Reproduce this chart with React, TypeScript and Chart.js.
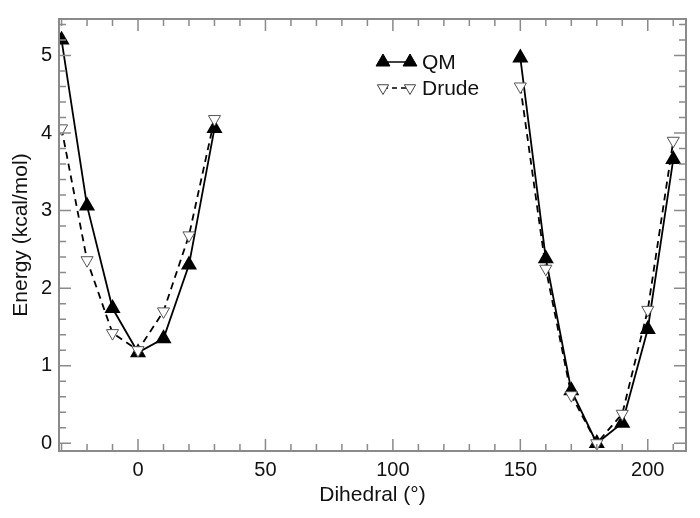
import React, { useEffect, useRef } from "react";
import { Chart, registerables } from "chart.js";

Chart.register(...registerables);

const dihedralLeft = [-30, -20, -10, 0, 10, 20, 30];
const dihedralRight = [150, 160, 170, 180, 190, 200, 210];
const qmLeft = [5.2, 3.06, 1.74, 1.17, 1.35, 2.3, 4.06];
const qmRight = [4.97, 2.38, 0.68, 0.0, 0.26, 1.47, 3.66];
const drudeLeft = [4.06, 2.36, 1.42, 1.2, 1.7, 2.68, 4.18];
const drudeRight = [4.6, 2.25, 0.62, 0.0, 0.38, 1.72, 3.9];
const xTickLabels = [0, 50, 100, 150, 200];
const yTickLabels = [0, 1, 2, 3, 4, 5];
const seriesNames = ["QM", "Drude"];

const FONT = "'Liberation Sans', Arial, Helvetica, sans-serif";
const AXIS_COLOR = "#8a8a8a";

function buildPoints(xl: number[], yl: number[], xr: number[], yr: number[]) {
  const pts: { x: number; y: number | null }[] = [];
  xl.forEach((x, i) => pts.push({ x, y: yl[i] }));
  pts.push({ x: 90, y: null });
  xr.forEach((x, i) => pts.push({ x, y: yr[i] }));
  return pts;
}

function tri(ctx: CanvasRenderingContext2D, x: number, y: number, r: number, down: boolean) {
  const s = down ? -1 : 1;
  const h = r * 0.5;
  const w = r * 0.866;
  ctx.beginPath();
  ctx.moveTo(x, y - s * r);
  ctx.lineTo(x - w, y + s * h);
  ctx.lineTo(x + w, y + s * h);
  ctx.closePath();
  ctx.fill();
  ctx.stroke();
}

const framePlugin = {
  id: "frameTicks",
  afterDraw(chart: any) {
    const { ctx, chartArea } = chart;
    const xs = chart.scales.x;
    const ys = chart.scales.y;
    const { left, right, top, bottom } = chartArea;
    ctx.save();
    ctx.strokeStyle = AXIS_COLOR;
    ctx.lineWidth = 2;
    ctx.strokeRect(left, top, right - left, bottom - top);
    ctx.lineWidth = 1.5;
    for (let v = -30; v <= 210; v += 10) {
      const px = xs.getPixelForValue(v);
      const major = v % 50 === 0;
      const len = major ? 12 : 7;
      ctx.beginPath();
      ctx.moveTo(px, bottom);
      ctx.lineTo(px, bottom - len);
      ctx.moveTo(px, top);
      ctx.lineTo(px, top + len);
      ctx.stroke();
    }
    for (let i = 0; i <= 27; i++) {
      const v = i * 0.2;
      const py = ys.getPixelForValue(v);
      const major = i % 5 === 0;
      const len = major ? 12 : 7;
      ctx.beginPath();
      ctx.moveTo(left, py);
      ctx.lineTo(left + len, py);
      ctx.moveTo(right, py);
      ctx.lineTo(right - len, py);
      ctx.stroke();
    }
    const lx0 = 383, lx1 = 410;
    const rows = [
      { y: 62, dash: [] as number[], fill: "#000", stroke: "#000", down: false, r: 8 },
      { y: 88, dash: [5, 4], fill: "#fff", stroke: "#444", down: true, r: 6.5 },
    ];
    rows.forEach((row, idx) => {
      ctx.strokeStyle = "#000";
      ctx.lineWidth = 1.5;
      ctx.setLineDash(row.dash);
      ctx.beginPath();
      ctx.moveTo(lx0, row.y);
      ctx.lineTo(lx1, row.y);
      ctx.stroke();
      ctx.setLineDash([]);
      [lx0, lx1].forEach((px) => {
        ctx.fillStyle = row.fill;
        ctx.strokeStyle = row.stroke;
        ctx.lineWidth = 1;
        tri(ctx, px, row.y, row.r, row.down);
      });
      ctx.fillStyle = "#111";
      ctx.font = `21px ${FONT}`;
      ctx.textBaseline = "middle";
      ctx.textAlign = "left";
      ctx.fillText(seriesNames[idx], 422, row.y + 1);
    });
    ctx.restore();
  },
};

export default function App() {
  const ref = useRef<HTMLCanvasElement>(null);
  useEffect(() => {
    if (!ref.current) return;
    const chart = new Chart(ref.current, {
      type: "line",
      data: {
        datasets: [
          {
            label: seriesNames[1],
            data: buildPoints(dihedralLeft, drudeLeft, dihedralRight, drudeRight),
            borderColor: "#000",
            borderWidth: 1.8,
            borderDash: [7, 5],
            pointStyle: "triangle",
            rotation: 180,
            pointRadius: 7,
            pointBackgroundColor: "#fff",
            pointBorderColor: "#555",
            pointBorderWidth: 1,
            spanGaps: false,
            tension: 0,
          },
          {
            label: seriesNames[0],
            data: buildPoints(dihedralLeft, qmLeft, dihedralRight, qmRight),
            borderColor: "#000",
            borderWidth: 1.8,
            pointStyle: "triangle",
            pointRadius: 7.5,
            pointBackgroundColor: "#000",
            pointBorderColor: "#000",
            spanGaps: false,
            tension: 0,
          },
        ],
      },
      options: {
        animation: false,
        responsive: false,
        maintainAspectRatio: false,
        layout: { padding: { top: 14, right: 14, left: 0, bottom: 0 } },
        plugins: { legend: { display: false }, tooltip: { enabled: false } },
        scales: {
          x: {
            type: "linear",
            min: -31,
            max: 215,
            border: { display: false },
            grid: { display: false, drawTicks: false },
            afterBuildTicks: (s: any) => {
              s.ticks = xTickLabels.map((v) => ({ value: v }));
            },
            afterFit: (s: any) => {
              s.height = 67;
            },
            ticks: {
              color: "#111",
              font: { family: FONT, size: 20 },
              padding: 7,
              maxRotation: 0,
            },
            title: {
              display: true,
              text: "Dihedral (°)",
              color: "#111",
              font: { family: FONT, size: 21 },
              padding: { top: 0, bottom: 10 },
            },
          },
          y: {
            min: -0.1,
            max: 5.47,
            border: { display: false },
            grid: { display: false, drawTicks: false },
            afterBuildTicks: (s: any) => {
              s.ticks = yTickLabels.map((v) => ({ value: v }));
            },
            afterFit: (s: any) => {
              s.width = 59;
            },
            ticks: {
              color: "#111",
              font: { family: FONT, size: 20 },
              padding: 7,
            },
            title: {
              display: true,
              text: "Energy (kcal/mol)",
              color: "#111",
              font: { family: FONT, size: 21 },
              padding: { top: 9, bottom: 0 },
            },
          },
        },
      },
      plugins: [framePlugin],
    });
    return () => chart.destroy();
  }, []);
  return (
    <div style={{ position: "fixed", left: 0, top: 0, width: 700, height: 518, background: "#fff" }}>
      <canvas ref={ref} width={700} height={518} style={{ width: 700, height: 518 }} />
    </div>
  );
}
